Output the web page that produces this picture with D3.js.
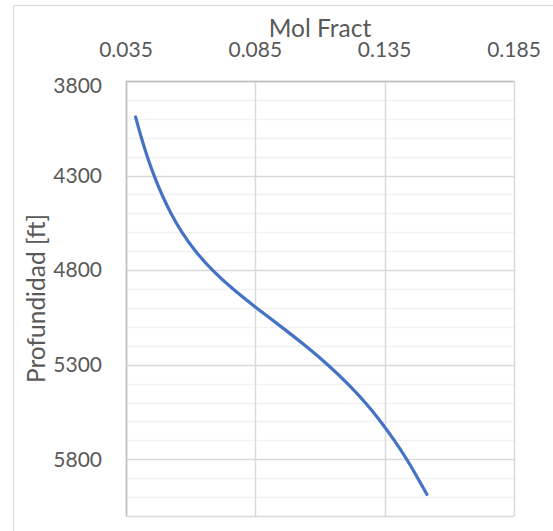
<!DOCTYPE html>
<html>
<head>
<meta charset="utf-8">
<script src="https://cdn.jsdelivr.net/npm/d3@7"></script>
<style>
  body { margin: 0; background: #fff; }
  svg { display: block; font-family: "Lato", sans-serif; }
</style>
</head>
<body>
<div id="chart"></div>
<script>
// depth in ft, mol fraction
const depth = [3990, 4000, 4100, 4200, 4300, 4400, 4500, 4600, 4700, 4800, 4900, 5000,
  5100, 5200, 5300, 5400, 5500, 5600, 5700, 5800, 5900, 5985];
const molFract = [0.0387, 0.0389, 0.0409, 0.0432, 0.0458, 0.0488, 0.0523, 0.0565,
  0.0617, 0.0682, 0.0762, 0.0854, 0.0951, 0.1045, 0.1131, 0.1208, 0.1276, 0.1335,
  0.1388, 0.1436, 0.1478, 0.1513];
const xTicks = [0.035, 0.085, 0.135, 0.185];
const yTicks = [3800, 4300, 4800, 5300, 5800];
const yMinor = d3.range(3800, 6101, 100);

const width = 553, height = 531;
const margin = { top: 81, right: 39, bottom: 15, left: 126 };
const innerW = width - margin.left - margin.right;
const innerH = height - margin.top - margin.bottom;
const textColor = "#595959";

const svg = d3.select("#chart").append("svg")
  .attr("width", width)
  .attr("height", height);

// chart area border
svg.append("rect")
  .attr("x", 13.5).attr("y", 5.5)
  .attr("width", width).attr("height", height)
  .attr("fill", "none")
  .attr("stroke", "#d9d9d9");

const x = d3.scaleLinear().domain([0.035, 0.185]).range([0, innerW]);
const y = d3.scaleLinear().domain([3800, 6100]).range([0, innerH]);

const g = svg.append("g")
  .attr("transform", `translate(${margin.left},${margin.top})`);

// minor horizontal gridlines
g.append("g")
  .selectAll("line")
  .data(yMinor.filter(d => !yTicks.includes(d)))
  .join("line")
  .attr("x1", 0).attr("x2", innerW)
  .attr("y1", d => Math.round(y(d)) + 0.5)
  .attr("y2", d => Math.round(y(d)) + 0.5)
  .attr("stroke", "#f2f2f2")
  .attr("stroke-width", 1.5);

// major gridlines
g.append("g")
  .selectAll("line")
  .data(yTicks.concat([6100]))
  .join("line")
  .attr("x1", 0).attr("x2", innerW)
  .attr("y1", d => Math.round(y(d)) + 0.5)
  .attr("y2", d => Math.round(y(d)) + 0.5)
  .attr("stroke", "#d9d9d9")
  .attr("stroke-width", 1.5);

g.append("g")
  .selectAll("line")
  .data(xTicks)
  .join("line")
  .attr("x1", d => Math.round(x(d)) + 0.5)
  .attr("x2", d => Math.round(x(d)) + 0.5)
  .attr("y1", 0).attr("y2", innerH)
  .attr("stroke", "#d9d9d9")
  .attr("stroke-width", 1.5);

// axis lines (left and top)
g.append("line")
  .attr("x1", 0.5).attr("x2", 0.5).attr("y1", 0).attr("y2", innerH)
  .attr("stroke", "#bfbfbf").attr("stroke-width", 1.5);
g.append("line")
  .attr("x1", 0).attr("x2", innerW).attr("y1", 0.5).attr("y2", 0.5)
  .attr("stroke", "#bfbfbf").attr("stroke-width", 1.5);

// x tick labels on top
g.append("g")
  .selectAll("text")
  .data(xTicks)
  .join("text")
  .attr("x", d => x(d))
  .attr("y", -24)
  .attr("text-anchor", "middle")
  .attr("fill", textColor)
  .attr("font-size", 21)
  .text(d => d3.format(".3f")(d));

// y tick labels
g.append("g")
  .selectAll("text")
  .data(yTicks)
  .join("text")
  .attr("x", -24)
  .attr("y", (d, i) => y(d) + (i === 0 ? 5 : 0))
  .attr("dy", "0.35em")
  .attr("text-anchor", "end")
  .attr("fill", textColor)
  .attr("font-size", 21)
  .text(d => d);

// axis titles
svg.append("text")
  .attr("x", margin.left + innerW / 2)
  .attr("y", 36.5)
  .attr("text-anchor", "middle")
  .attr("fill", textColor)
  .attr("font-size", 24.5)
  .text("Mol Fract");

svg.append("text")
  .attr("transform", `translate(45,${margin.top + innerH / 2}) rotate(-90)`)
  .attr("text-anchor", "middle")
  .attr("fill", textColor)
  .attr("font-size", 24.5)
  .text("Profundidad [ft]");

// the curve
const data = depth.map((d, i) => ({ d: d, v: molFract[i] }));
const line = d3.line()
  .x(p => x(p.v))
  .y(p => y(p.d))
  .curve(d3.curveBasis);

g.append("path")
  .datum(data)
  .attr("fill", "none")
  .attr("stroke", "#4472c4")
  .attr("stroke-width", 3.2)
  .attr("stroke-linecap", "round")
  .attr("d", line);
</script>
</body>
</html>
